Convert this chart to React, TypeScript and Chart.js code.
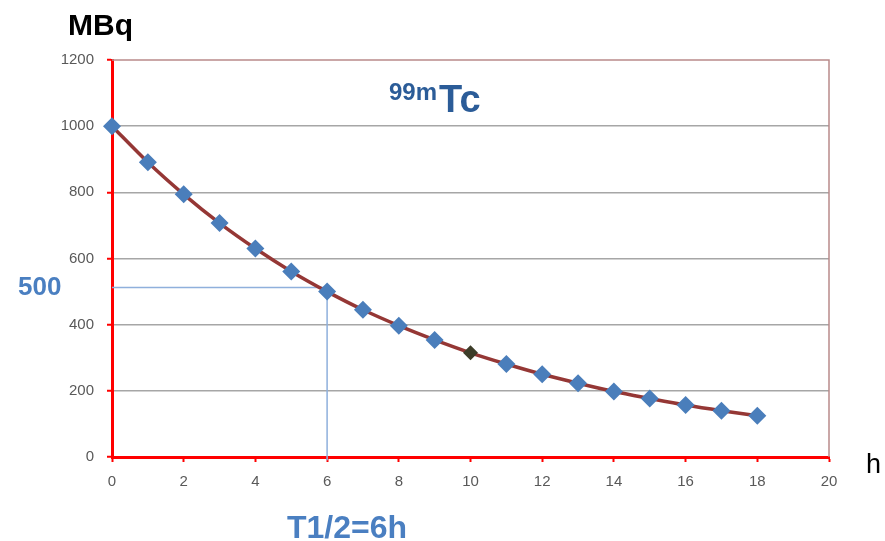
import React, { useEffect, useRef } from "react";
import { Chart, registerables } from "chart.js";

Chart.register(...registerables);

const hours = [0, 1, 2, 3, 4, 5, 6, 7, 8, 9, 10, 11, 12, 13, 14, 15, 16, 17, 18];
const activity = [1000, 891, 794, 707, 630, 561, 500, 445, 397, 354, 315, 281, 250, 223, 198, 177, 157, 140, 125];
const halfLifeX = [0, 6, 6];
const halfLifeY = [512, 512, -10];
const xTicks = [0, 2, 4, 6, 8, 10, 12, 14, 16, 18, 20];
const yTicks = [0, 200, 400, 600, 800, 1000, 1200];
const highlightIndex = 10;

const plotBorder = {
  id: "plotBorder",
  beforeDatasetsDraw(chart: any) {
    const { ctx, chartArea } = chart;
    ctx.save();
    ctx.strokeStyle = "#b98a8a";
    ctx.lineWidth = 1.5;
    ctx.beginPath();
    ctx.moveTo(chartArea.left, chartArea.top);
    ctx.lineTo(chartArea.right, chartArea.top);
    ctx.lineTo(chartArea.right, chartArea.bottom);
    ctx.stroke();
    ctx.restore();
  },
};

export default function App() {
  const ref = useRef<HTMLCanvasElement | null>(null);

  useEffect(() => {
    if (!ref.current) return;
    const decay = hours.map((h, i) => ({ x: h, y: activity[i] }));
    const guide = halfLifeX.map((x, i) => ({ x, y: halfLifeY[i] }));
    const chart = new Chart(ref.current, {
      type: "line",
      data: {
        datasets: [
          {
            data: decay,
            borderColor: "#953735",
            borderWidth: 3.5,
            tension: 0.3,
            pointStyle: "rectRot",
            pointRadius: hours.map((_, i) => (i === highlightIndex ? 7.5 : 9)),
            pointBackgroundColor: hours.map((_, i) => (i === highlightIndex ? "#3d3d29" : "#4a7ebb")),
            pointBorderColor: hours.map((_, i) => (i === highlightIndex ? "#3d3d29" : "#4a7ebb")),
            pointBorderWidth: 0,
            clip: false as any,
          },
          {
            data: guide,
            borderColor: "#8fb0dc",
            borderWidth: 1.5,
            pointRadius: 0,
            tension: 0,
            clip: false as any,
          },
        ],
      },
      options: {
        animation: false,
        responsive: true,
        maintainAspectRatio: false,
        layout: { padding: { top: 60, right: 56, left: 0, bottom: 0 } },
        plugins: { legend: { display: false }, tooltip: { enabled: false } },
        scales: {
          x: {
            type: "linear",
            min: 0,
            max: 20,
            afterFit: (s: any) => {
              s.height = 84;
            },
            afterBuildTicks: (s: any) => {
              s.ticks = xTicks.map((v) => ({ value: v }));
            },
            border: { color: "#ff0000", width: 3 },
            grid: { drawOnChartArea: false, tickColor: "#ff0000", tickLength: 5, tickWidth: 2 },
            ticks: {
              color: "#595959",
              font: { family: "Liberation Sans", size: 15 },
              padding: 11,
              callback: (v: any) => String(v),
            },
          },
          y: {
            type: "linear",
            min: 0,
            max: 1200,
            afterFit: (s: any) => {
              s.width = 112;
            },
            afterBuildTicks: (s: any) => {
              s.ticks = yTicks.map((v) => ({ value: v }));
            },
            border: { color: "#ff0000", width: 3 },
            grid: {
              color: (c: any) => (c.tick && c.tick.value === 1200 ? "rgba(0,0,0,0)" : "#a6a6a6"),
              lineWidth: 1.5,
              tickColor: "#ff0000",
              tickLength: 5,
              tickWidth: 2,
            },
            ticks: {
              color: "#595959",
              font: { family: "Liberation Sans", size: 15 },
              padding: 13,
              callback: (v: any) => String(v),
            },
          },
        },
      },
      plugins: [plotBorder],
    });
    return () => chart.destroy();
  }, []);

  const base: React.CSSProperties = {
    position: "absolute",
    fontFamily: "Liberation Sans, Arial, sans-serif",
    lineHeight: 1,
    whiteSpace: "nowrap",
    margin: 0,
  };

  return (
    <div style={{ position: "absolute", left: 0, top: 0, width: 885, height: 541, background: "#fff" }}>
      <canvas ref={ref} />
      <div style={{ ...base, left: 68, top: 10, fontSize: 30, fontWeight: 700, color: "#000" }}>MBq</div>
      <div style={{ ...base, left: 389, top: 80, fontWeight: 700, color: "#2b5c98" }}>
        <span style={{ fontSize: 24, verticalAlign: "top", position: "relative", top: 0 }}>99m</span>
        <span style={{ fontSize: 38, marginLeft: 2 }}>Tc</span>
      </div>
      <div style={{ ...base, left: 18, top: 273, fontSize: 26, fontWeight: 700, color: "#4a7fc1" }}>500</div>
      <div style={{ ...base, left: 287, top: 511, fontSize: 32, fontWeight: 700, color: "#4a7fc1" }}>T1/2=6h</div>
      <div style={{ ...base, left: 866, top: 451, fontSize: 27, color: "#000" }}>h</div>
    </div>
  );
}
